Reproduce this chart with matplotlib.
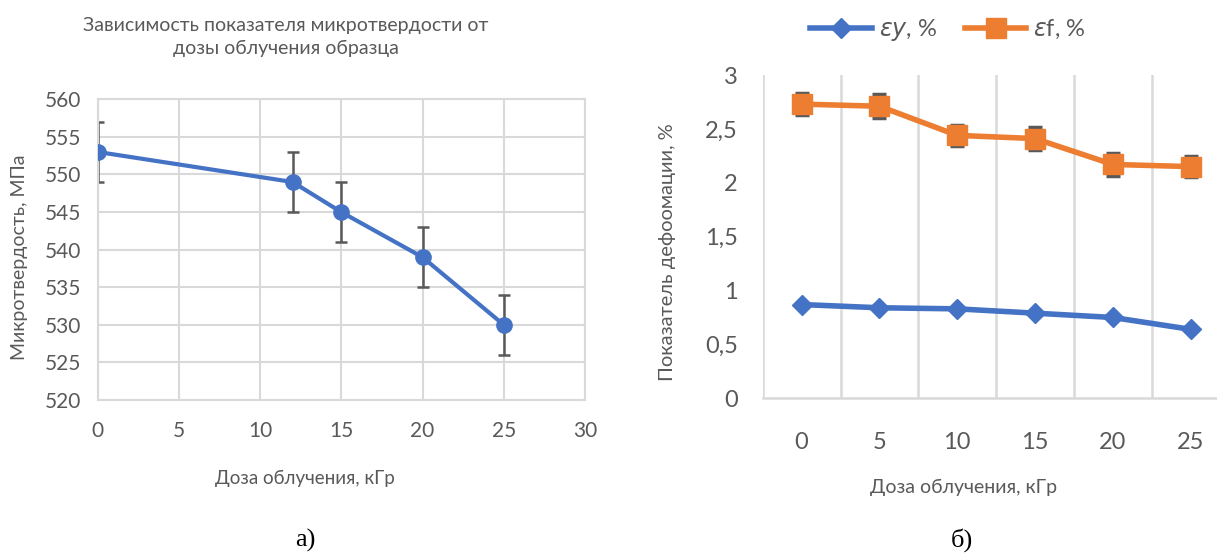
import matplotlib
matplotlib.use('Agg')
import matplotlib.pyplot as plt
from matplotlib.ticker import FuncFormatter
import numpy as np

# data for panel a) - microhardness vs dose
dose_a = [0, 12, 15, 20, 25]
hardness = [553, 549, 545, 539, 530]
hardness_err = [4, 4, 4, 4, 4]

# data for panel b) - deformation vs dose (categorical axis)
dose_b = ['0', '5', '10', '15', '20', '25']
eps_y = [0.87, 0.84, 0.83, 0.79, 0.75, 0.64]
eps_f = [2.73, 2.71, 2.44, 2.41, 2.17, 2.15]
eps_f_err = [0.1, 0.11, 0.1, 0.11, 0.11, 0.1]

BLUE = '#4472C4'
ORANGE = '#ED7D31'
GRAY = '#595959'
GRID = '#d9d9d9'

plt.rcParams['font.family'] = ['Lato', 'DejaVu Sans']

fig = plt.figure(figsize=(12.17, 5.55), dpi=100)
W, H = 1217, 555


def px(x0, y0, x1, y1):
    # pixel box -> figure fraction rect
    return [x0 / W, 1 - y1 / H, (x1 - x0) / W, (y1 - y0) / H]


comma = FuncFormatter(lambda v, p: '{:g}'.format(v).replace('.', ','))

# ---------------- panel a) ----------------
ax1 = fig.add_axes(px(97.5, 99.3, 585, 400))
ax1.errorbar(dose_a, hardness, yerr=hardness_err, fmt='none', ecolor=GRAY,
             elinewidth=1.8, capsize=4.5, capthick=1.8, zorder=2)
ax1.plot(dose_a, hardness, color=BLUE, lw=3, marker='o', ms=11, zorder=3)
ax1.set_xlim(0, 30)
ax1.set_ylim(520, 560)
ax1.set_xticks(np.arange(0, 31, 5))
ax1.set_yticks(np.arange(520, 561, 5))
ax1.grid(True, color=GRID, lw=1.5)
ax1.set_axisbelow(True)
for s in ax1.spines.values():
    s.set_color(GRID)
    s.set_linewidth(1.5)
ax1.tick_params(length=0, labelsize=15, labelcolor=GRAY)
ax1.tick_params(axis='y', pad=12)
ax1.tick_params(axis='x', pad=15)

fig.text(286 / W, 1 - 37 / H, 'Зависимость показателя микротвердости от\nдозы облучения образца',
         ha='center', va='center', fontsize=14, color=GRAY, linespacing=1.45)
fig.text(20 / W, 1 - 257 / H, 'Микротвердость, МПа', rotation=90,
         ha='center', va='center', fontsize=14, color=GRAY)
fig.text(305 / W, 1 - 478 / H, 'Доза облучения, кГр',
         ha='center', va='center', fontsize=13.5, color=GRAY)

# ---------------- panel b) ----------------
ax2 = fig.add_axes(px(762.7, 75, 1229.5, 398.3))
xb = np.arange(len(dose_b))
ax2.errorbar(xb, eps_f, yerr=eps_f_err, fmt='none', ecolor=GRAY,
             elinewidth=1.8, capsize=5, capthick=2.5, zorder=2)
ax2.plot(xb, eps_y, color=BLUE, lw=4, marker='D', ms=10, label=r'$\varepsilon y$, %', zorder=3)
ax2.plot(xb, eps_f, color=ORANGE, lw=4, marker='s', ms=15, label=r'$\varepsilon$f, %', zorder=3)
ax2.set_xlim(-0.5, len(dose_b) - 0.5)
ax2.set_ylim(0, 3)
ax2.set_yticks(np.arange(0, 3.01, 0.5))
ax2.yaxis.set_major_formatter(comma)
ax2.set_xticks(xb)
ax2.set_xticklabels(dose_b)
ax2.set_xticks(np.arange(-0.5, len(dose_b), 1), minor=True)
ax2.grid(True, which='minor', axis='x', color=GRID, lw=1.8)
ax2.set_axisbelow(True)
for side in ['top', 'right', 'left']:
    ax2.spines[side].set_visible(False)
ax2.spines['bottom'].set_color(GRID)
ax2.spines['bottom'].set_linewidth(1.8)
ax2.tick_params(which='both', length=0, labelsize=17, labelcolor=GRAY)
ax2.tick_params(axis='y', pad=18)
ax2.tick_params(axis='x', pad=24)

fig.text(667 / W, 1 - 252 / H, 'Показатель дефоомации, %', rotation=90,
         ha='center', va='center', fontsize=14.5, color=GRAY)
fig.text(964 / W, 1 - 487 / H, 'Доза облучения, кГр',
         ha='center', va='center', fontsize=14, color=GRAY)

handles, labels = ax2.get_legend_handles_labels()
fig.legend(handles, labels, loc='center', bbox_to_anchor=(948 / W, 1 - 30 / H),
           ncol=2, frameon=False, fontsize=17, labelcolor=GRAY,
           handlelength=2.6, columnspacing=1.2, handletextpad=0.3)

# panel captions
fig.text(305 / W, 1 - 540 / H, 'а)', ha='center', va='center',
         fontsize=19, family='Liberation Serif', color='black')
fig.text(962 / W, 1 - 540 / H, 'б)', ha='center', va='center',
         fontsize=19, family='Liberation Serif', color='black')

fig.savefig('out.png', dpi=100)
